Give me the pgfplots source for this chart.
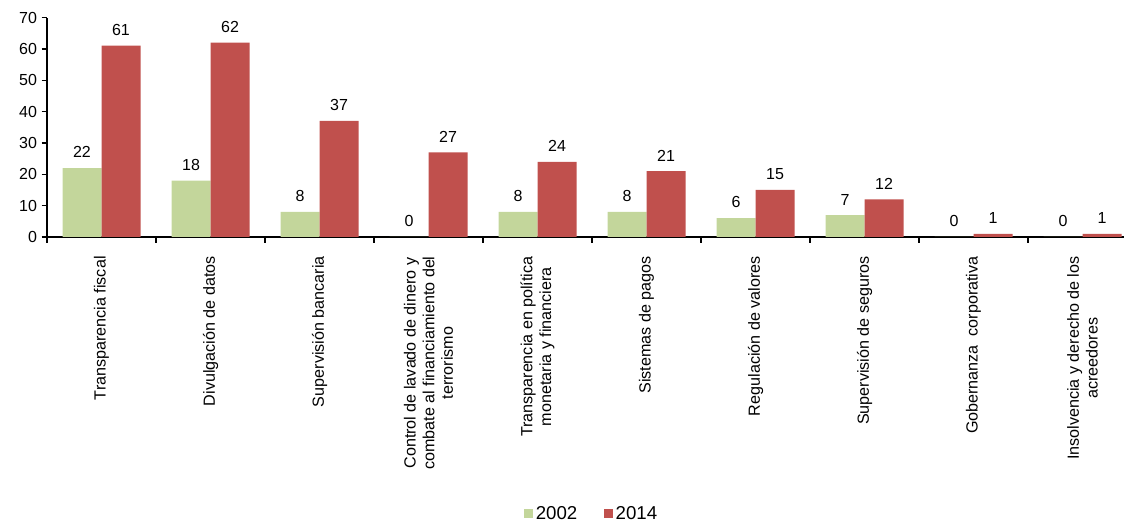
\documentclass[border=0pt]{standalone}
\usepackage{fontspec}
\setmainfont{Liberation Sans}
\usepackage{pgfplots}
\pgfplotsset{compat=1.18}
\definecolor{verde}{HTML}{C3D69B}
\definecolor{rojo}{HTML}{C0504D}

\begin{document}
\begin{tikzpicture}
  \begin{axis}[
      at={(0,0)}, anchor=south west,
      scale only axis,
      width=817.5pt, height=164.6pt,
      ybar=0pt, bar width=29.25pt,
      xmin=-0.5, xmax=9.5,
      ymin=0, ymax=70,
      ytick={0,10,...,70},
      xtick={0,...,9},
      minor xtick={-0.5,0.5,...,9.5},
      every major x tick/.append style={draw=none},
      xticklabels={
        Transparencia fiscal,
        Divulgación de datos,
        Supervisión bancaria,
        {Control de lavado de dinero y\\combate al financiamiento del\\terrorismo},
        {Transparencia en política\\monetaria y financiera},
        Sistemas de pagos,
        Regulación de valores,
        Supervisión de seguros,
        Gobernanza\ \ corporativa,
        {Insolvencia y derecho de los\\acreedores}},
      xticklabel style={yshift=-7pt, rotate=90, anchor=east, align=center, font=\fontsize{12.1}{14}\selectfont},
      yticklabel style={font=\fontsize{12}{14}\selectfont},
      /pgf/number format/assume math mode=true,
      axis x line*=bottom, axis y line*=left,
      axis line style={line width=1.1pt},
      tick style={line width=1.1pt, black},
      tick align=outside,
      major tick length=4pt, minor tick length=4.5pt,
      nodes near coords,
      every node near coord/.append style={font=\fontsize{12}{14}\selectfont, anchor=south, yshift=4pt},
      legend columns=2,
      legend style={at={(0.5,-1.262)}, anchor=center, draw=none, font=\fontsize{14}{16}\selectfont,
        /tikz/every even column/.append style={column sep=18pt}},
      legend image code/.code={\fill[#1] (0pt,-3.4pt) rectangle (6.75pt,3.4pt);},
    ]
    \addplot[fill=verde, draw=none] coordinates {(0,22) (1,18) (2,8) (3,0) (4,8) (5,8) (6,6) (7,7) (8,0) (9,0)};
    \addplot[fill=rojo, draw=none] coordinates {(0,61) (1,62) (2,37) (3,27) (4,24) (5,21) (6,15) (7,12) (8,1) (9,1)};
    \legend{2002, 2014}
  \end{axis}
  \pgfresetboundingbox
  \path[use as bounding box] (-35.25pt,-214.5pt) rectangle (807.75pt,177.75pt);
\end{tikzpicture}
\end{document}
